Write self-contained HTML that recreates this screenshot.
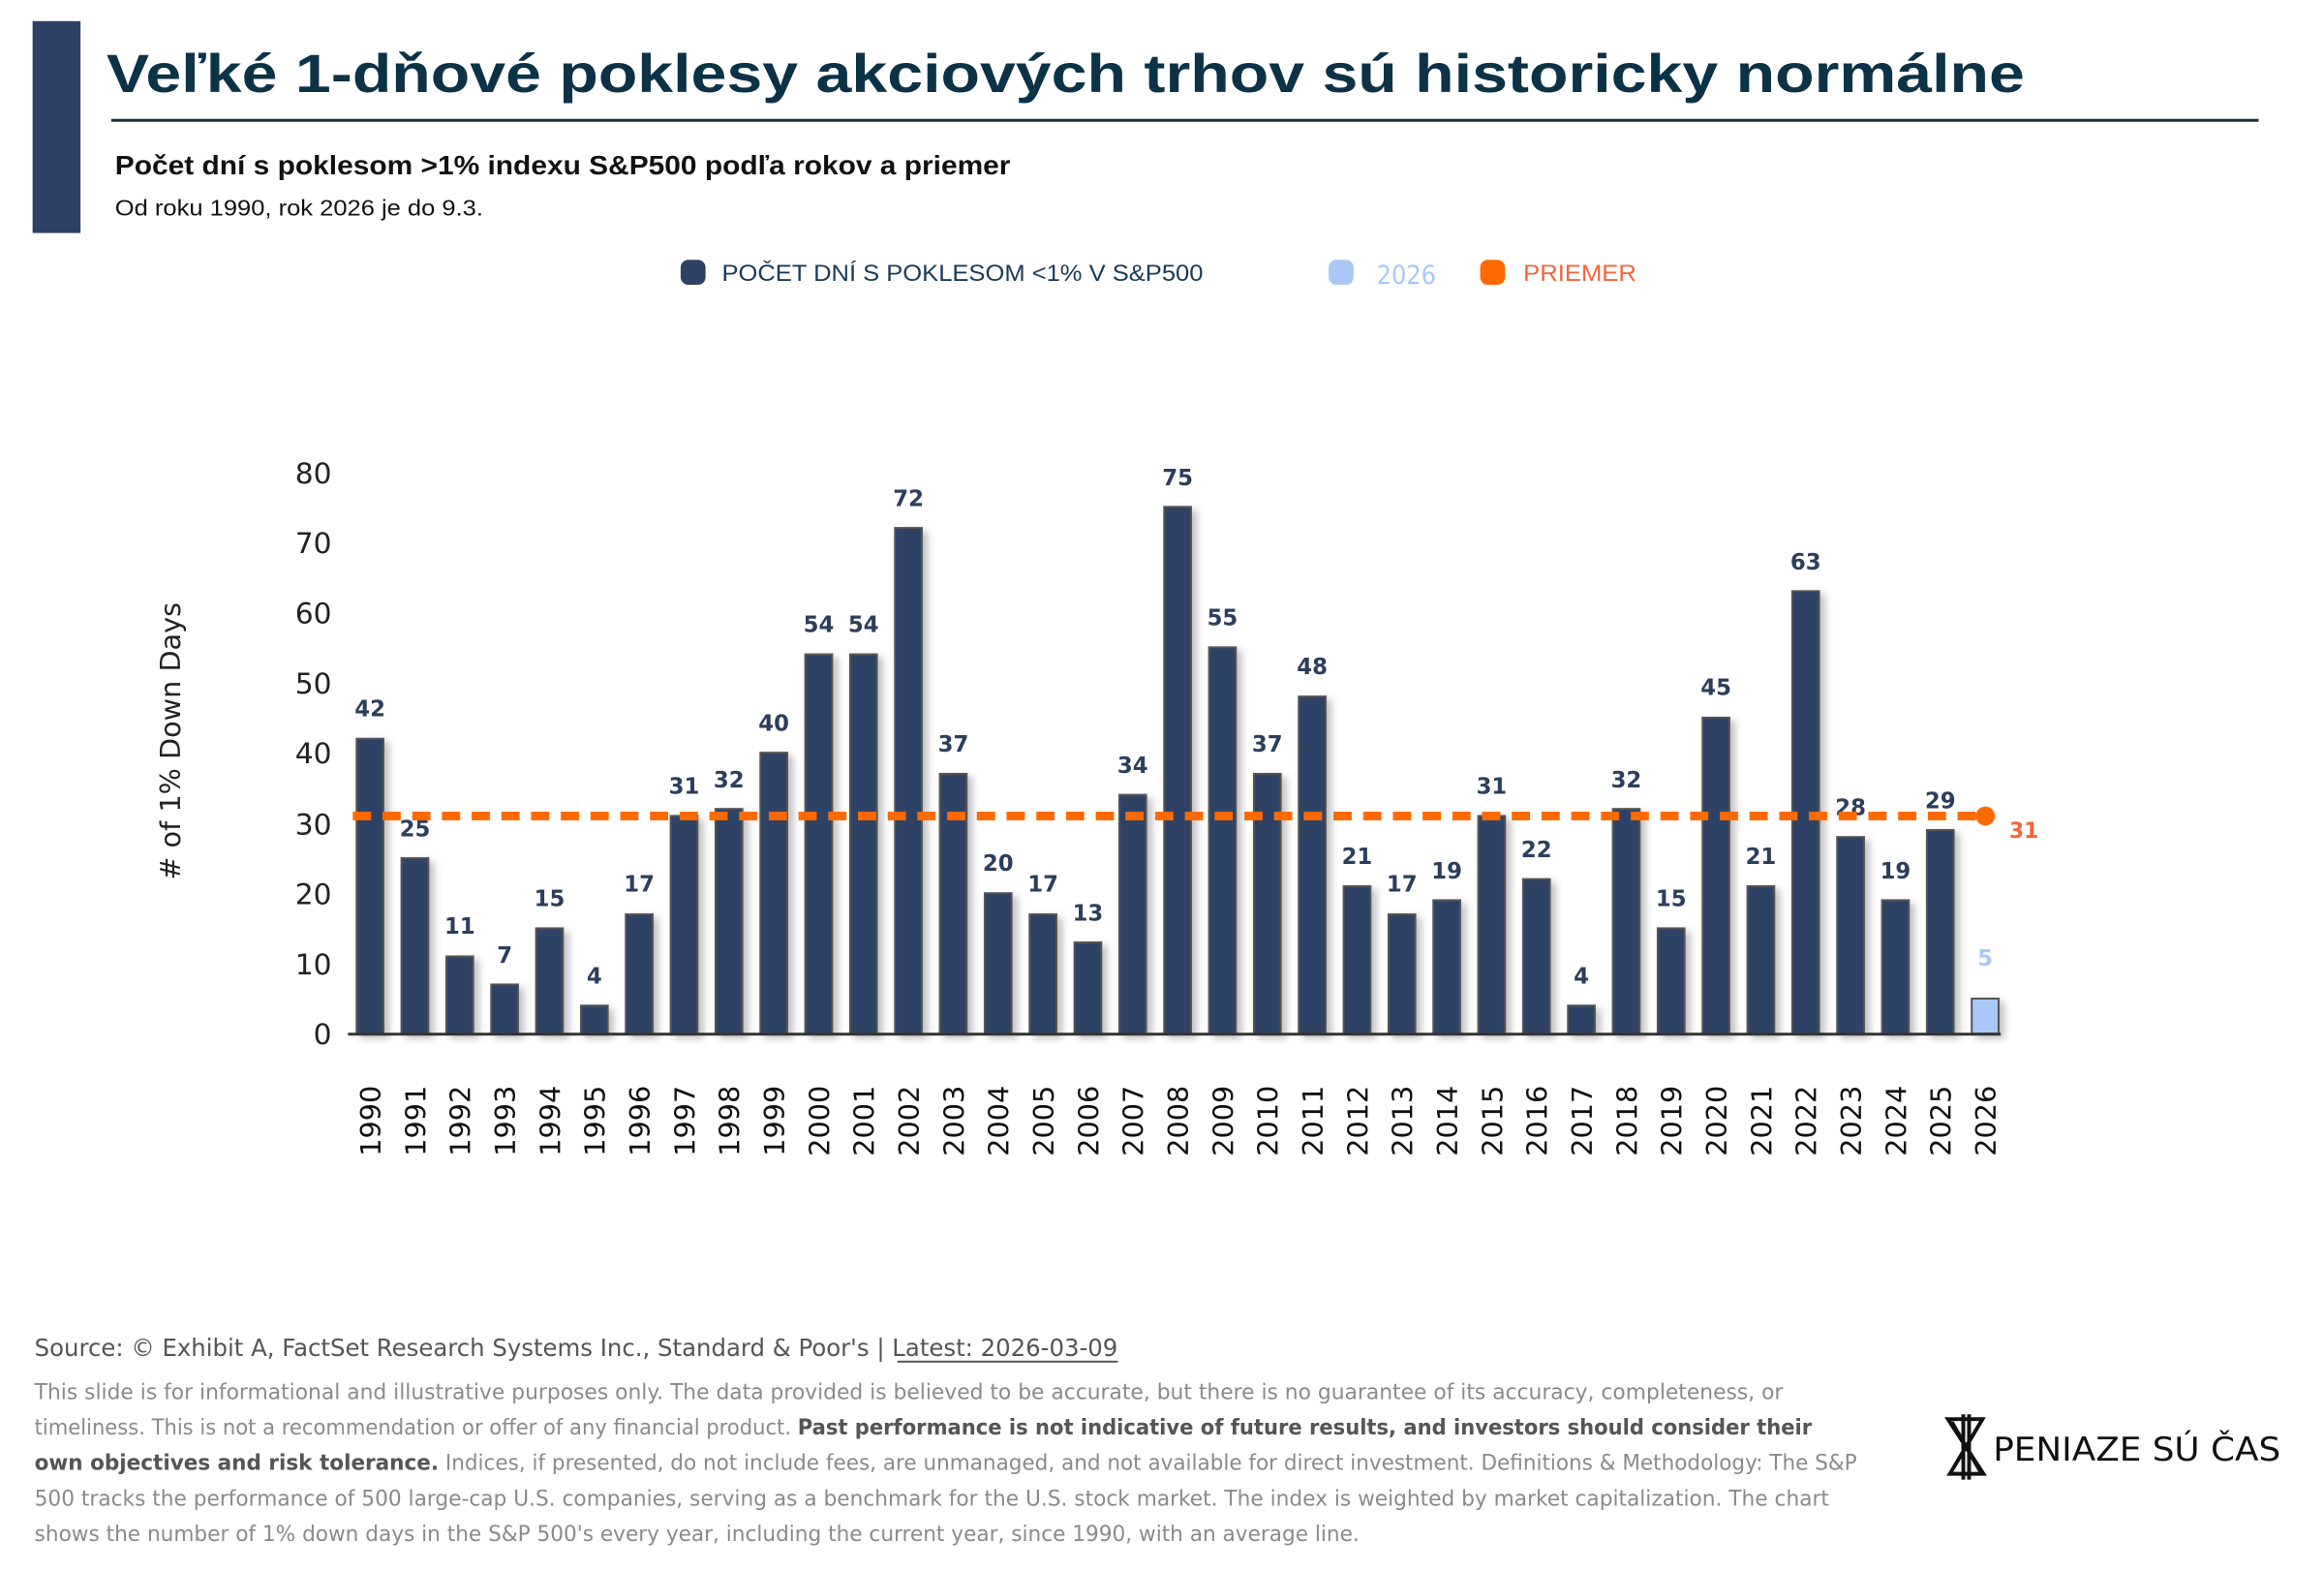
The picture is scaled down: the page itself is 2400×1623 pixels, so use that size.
<!DOCTYPE html>
<html><head><meta charset="utf-8"><style>
html,body{margin:0;padding:0;background:#fff;}
svg{display:block;}
</style></head><body>
<svg width="2400" height="1623" viewBox="0 0 2400 1623" xmlns="http://www.w3.org/2000/svg" font-family="'Liberation Sans', sans-serif">
<defs>
<filter id="sh" x="-50%" y="-10%" width="200%" height="130%"><feDropShadow dx="5" dy="4" stdDeviation="4" flood-color="#000" flood-opacity="0.25"/></filter>
</defs>
<g transform="scale(0.99)">
<rect x="34" y="22" width="50" height="221" fill="#2e4266"/>
<text x="111" y="96" font-size="56" font-weight="bold" fill="#0b3247" textLength="2001" lengthAdjust="spacingAndGlyphs">Veľké 1-dňové poklesy akciových trhov sú historicky normálne</text>
<rect x="116" y="124" width="2240" height="3" fill="#1c2a3a"/>
<text x="120" y="182" font-size="28" font-weight="bold" fill="#111" textLength="934" lengthAdjust="spacingAndGlyphs">Počet dní s poklesom &gt;1% indexu S&amp;P500 podľa rokov a priemer</text>
<text x="120" y="225" font-size="23" fill="#111" textLength="384" lengthAdjust="spacingAndGlyphs">Od roku 1990, rok 2026 je do 9.3.</text>

<!-- legend -->
<rect x="710" y="271" width="26" height="26" rx="8" fill="#2e4266"/>
<text x="753" y="293" font-size="24" fill="#1b3a57" textLength="502" lengthAdjust="spacingAndGlyphs">POČET DNÍ S POKLESOM &lt;1% V S&amp;P500</text>
<rect x="1386" y="271" width="26" height="26" rx="8" fill="#a9c8f5"/>
<text x="1436" y="296" font-size="27" fill="#a9c8f5" font-family="'DejaVu Sans',sans-serif" textLength="62" lengthAdjust="spacingAndGlyphs">2026</text>
<rect x="1544" y="271" width="26" height="26" rx="8" fill="#ff6a00"/>
<text x="1589" y="293" font-size="24" fill="#f2663a" textLength="118" lengthAdjust="spacingAndGlyphs">PRIEMER</text>

<!-- y axis -->
<g font-family="'DejaVu Sans',sans-serif" font-size="30" fill="#222" text-anchor="end">
<text x="346" y="1089">0</text>
<text x="346" y="1016">10</text>
<text x="346" y="943">20</text>
<text x="346" y="870">30</text>
<text x="346" y="796">40</text>
<text x="346" y="723">50</text>
<text x="346" y="650">60</text>
<text x="346" y="577">70</text>
<text x="346" y="504">80</text>
</g>
<text transform="translate(188,773) rotate(-90)" text-anchor="middle" font-family="'DejaVu Sans',sans-serif" font-size="29" fill="#222">#  of 1% Down Days</text>

<!-- bars -->
<g fill="#2e4266" stroke="#555" stroke-width="2" filter="url(#sh)">
<rect x="372" y="770.4" width="28" height="307.6"/>
<rect x="418.8" y="894.9" width="28" height="183.1"/>
<rect x="465.6" y="997.4" width="28" height="80.6"/>
<rect x="512.4" y="1026.7" width="28" height="51.3"/>
<rect x="559.2" y="968.1" width="28" height="109.9"/>
<rect x="606" y="1048.7" width="28" height="29.3"/>
<rect x="652.8" y="953.5" width="28" height="124.5"/>
<rect x="699.6" y="850.9" width="28" height="227.1"/>
<rect x="746.4" y="843.6" width="28" height="234.4"/>
<rect x="793.2" y="785" width="28" height="293"/>
<rect x="840" y="682.4" width="28" height="395.6"/>
<rect x="886.8" y="682.4" width="28" height="395.6"/>
<rect x="933.6" y="550.6" width="28" height="527.4"/>
<rect x="980.4" y="807" width="28" height="271"/>
<rect x="1027.2" y="931.5" width="28" height="146.5"/>
<rect x="1074" y="953.5" width="28" height="124.5"/>
<rect x="1120.8" y="982.8" width="28" height="95.2"/>
<rect x="1167.6" y="828.9" width="28" height="249.1"/>
<rect x="1214.4" y="528.6" width="28" height="549.4"/>
<rect x="1261.2" y="675.1" width="28" height="402.9"/>
<rect x="1308" y="807" width="28" height="271"/>
<rect x="1354.8" y="726.4" width="28" height="351.6"/>
<rect x="1401.6" y="924.2" width="28" height="153.8"/>
<rect x="1448.4" y="953.5" width="28" height="124.5"/>
<rect x="1495.2" y="938.8" width="28" height="139.2"/>
<rect x="1542" y="850.9" width="28" height="227.1"/>
<rect x="1588.8" y="916.8" width="28" height="161.2"/>
<rect x="1635.6" y="1048.7" width="28" height="29.3"/>
<rect x="1682.4" y="843.6" width="28" height="234.4"/>
<rect x="1729.2" y="968.1" width="28" height="109.9"/>
<rect x="1776" y="748.4" width="28" height="329.6"/>
<rect x="1822.8" y="924.2" width="28" height="153.8"/>
<rect x="1869.6" y="616.5" width="28" height="461.5"/>
<rect x="1916.4" y="872.9" width="28" height="205.1"/>
<rect x="1963.2" y="938.8" width="28" height="139.2"/>
<rect x="2010" y="865.6" width="28" height="212.4"/>
<rect x="2056.8" y="1041.4" width="28" height="36.6" fill="#a9c8f5"/>
</g>
<rect x="363" y="1077" width="1724" height="3" fill="#333"/>

<!-- value labels -->
<g transform="translate(0,-9)" font-family="'DejaVu Sans',sans-serif" font-weight="bold" font-size="23" fill="#2c3e5c" text-anchor="middle">
<text x="386" y="756">42</text>
<text x="432.8" y="881">25</text>
<text x="479.6" y="983">11</text>
<text x="526.4" y="1013">7</text>
<text x="573.2" y="954">15</text>
<text x="620" y="1035">4</text>
<text x="666.8" y="939">17</text>
<text x="713.6" y="837">31</text>
<text x="760.4" y="830">32</text>
<text x="807.2" y="771">40</text>
<text x="854" y="668">54</text>
<text x="900.8" y="668">54</text>
<text x="947.6" y="537">72</text>
<text x="994.4" y="793">37</text>
<text x="1041.2" y="917">20</text>
<text x="1088" y="939">17</text>
<text x="1134.8" y="969">13</text>
<text x="1181.6" y="815">34</text>
<text x="1228.4" y="515">75</text>
<text x="1275.2" y="661">55</text>
<text x="1322" y="793">37</text>
<text x="1368.8" y="712">48</text>
<text x="1415.6" y="910">21</text>
<text x="1462.4" y="939">17</text>
<text x="1509.2" y="925">19</text>
<text x="1556" y="837">31</text>
<text x="1602.8" y="903">22</text>
<text x="1649.6" y="1035">4</text>
<text x="1696.4" y="830">32</text>
<text x="1743.2" y="954">15</text>
<text x="1790" y="734">45</text>
<text x="1836.8" y="910">21</text>
<text x="1883.6" y="603">63</text>
<text x="1930.4" y="859">28</text>
<text x="1977.2" y="925">19</text>
<text x="2024" y="852">29</text>
<text x="2070.8" y="1016" fill="#a9c8f5">5</text>
</g>

<!-- average line -->
<line x1="368" y1="851" x2="2070" y2="851" stroke="#ff6a00" stroke-width="9" stroke-dasharray="19,12"/>
<circle cx="2071" cy="851" r="10" fill="#ff6a00"/>
<text x="2096" y="874" font-family="'DejaVu Sans',sans-serif" font-weight="bold" font-size="22" fill="#f2663a">31</text>

<!-- years -->
<g font-family="'DejaVu Sans',sans-serif" font-size="29" fill="#111" text-anchor="end">
<text transform="translate(397,1132) rotate(-90)">1990</text>
<text transform="translate(443.8,1132) rotate(-90)">1991</text>
<text transform="translate(490.6,1132) rotate(-90)">1992</text>
<text transform="translate(537.4,1132) rotate(-90)">1993</text>
<text transform="translate(584.2,1132) rotate(-90)">1994</text>
<text transform="translate(631,1132) rotate(-90)">1995</text>
<text transform="translate(677.8,1132) rotate(-90)">1996</text>
<text transform="translate(724.6,1132) rotate(-90)">1997</text>
<text transform="translate(771.4,1132) rotate(-90)">1998</text>
<text transform="translate(818.2,1132) rotate(-90)">1999</text>
<text transform="translate(865,1132) rotate(-90)">2000</text>
<text transform="translate(911.8,1132) rotate(-90)">2001</text>
<text transform="translate(958.6,1132) rotate(-90)">2002</text>
<text transform="translate(1005.4,1132) rotate(-90)">2003</text>
<text transform="translate(1052.2,1132) rotate(-90)">2004</text>
<text transform="translate(1099,1132) rotate(-90)">2005</text>
<text transform="translate(1145.8,1132) rotate(-90)">2006</text>
<text transform="translate(1192.6,1132) rotate(-90)">2007</text>
<text transform="translate(1239.4,1132) rotate(-90)">2008</text>
<text transform="translate(1286.2,1132) rotate(-90)">2009</text>
<text transform="translate(1333,1132) rotate(-90)">2010</text>
<text transform="translate(1379.8,1132) rotate(-90)">2011</text>
<text transform="translate(1426.6,1132) rotate(-90)">2012</text>
<text transform="translate(1473.4,1132) rotate(-90)">2013</text>
<text transform="translate(1520.2,1132) rotate(-90)">2014</text>
<text transform="translate(1567,1132) rotate(-90)">2015</text>
<text transform="translate(1613.8,1132) rotate(-90)">2016</text>
<text transform="translate(1660.6,1132) rotate(-90)">2017</text>
<text transform="translate(1707.4,1132) rotate(-90)">2018</text>
<text transform="translate(1754.2,1132) rotate(-90)">2019</text>
<text transform="translate(1801,1132) rotate(-90)">2020</text>
<text transform="translate(1847.8,1132) rotate(-90)">2021</text>
<text transform="translate(1894.6,1132) rotate(-90)">2022</text>
<text transform="translate(1941.4,1132) rotate(-90)">2023</text>
<text transform="translate(1988.2,1132) rotate(-90)">2024</text>
<text transform="translate(2035,1132) rotate(-90)">2025</text>
<text transform="translate(2081.8,1132) rotate(-90)">2026</text>
</g>

<!-- footer -->
<g font-family="'DejaVu Sans',sans-serif">
<text x="36" y="1414" font-size="25" fill="#555" textLength="1130" lengthAdjust="spacingAndGlyphs">Source: © Exhibit A, FactSet Research Systems Inc., Standard &amp; Poor's | Latest: 2026-03-09</text>
<rect x="936" y="1419" width="230" height="2" fill="#555"/>
<g font-size="22" fill="#8a8a8a">
<text x="36" y="1459" textLength="1824" lengthAdjust="spacingAndGlyphs">This slide is for informational and illustrative purposes only. The data provided is believed to be accurate, but there is no guarantee of its accuracy, completeness, or</text>
<text x="36" y="1496" textLength="1854" lengthAdjust="spacingAndGlyphs">timeliness. This is not a recommendation or offer of any financial product. <tspan font-weight="bold" fill="#555">Past performance is not indicative of future results, and investors should consider their</tspan></text>
<text x="36" y="1533" textLength="1901" lengthAdjust="spacingAndGlyphs"><tspan font-weight="bold" fill="#555">own objectives and risk tolerance.</tspan> Indices, if presented, do not include fees, are unmanaged, and not available for direct investment. Definitions &amp; Methodology: The S&amp;P</text>
<text x="36" y="1570" textLength="1872" lengthAdjust="spacingAndGlyphs">500 tracks the performance of 500 large-cap U.S. companies, serving as a benchmark for the U.S. stock market. The index is weighted by market capitalization. The chart</text>
<text x="36" y="1607" textLength="1382" lengthAdjust="spacingAndGlyphs">shows the number of 1% down days in the S&amp;P 500's every year, including the current year, since 1990, with an average line.</text>
</g>
</g>

<!-- logo -->
<g transform="translate(22,15)">
<g stroke="#111" stroke-width="4" fill="none">
<path d="M2010 1465 L2046 1465 L2012 1522 L2047 1522 Z"/>
<path d="M2014 1468 L2044 1520"/>
<line x1="2026" y1="1460" x2="2026" y2="1528"/>
<line x1="2032" y1="1460" x2="2032" y2="1528"/>
</g>
<text x="2057" y="1508" font-family="'DejaVu Sans',sans-serif" font-size="34" fill="#111" textLength="300" lengthAdjust="spacingAndGlyphs">PENIAZE SÚ ČAS</text>
</g>
</g>
</svg>
</body></html>
